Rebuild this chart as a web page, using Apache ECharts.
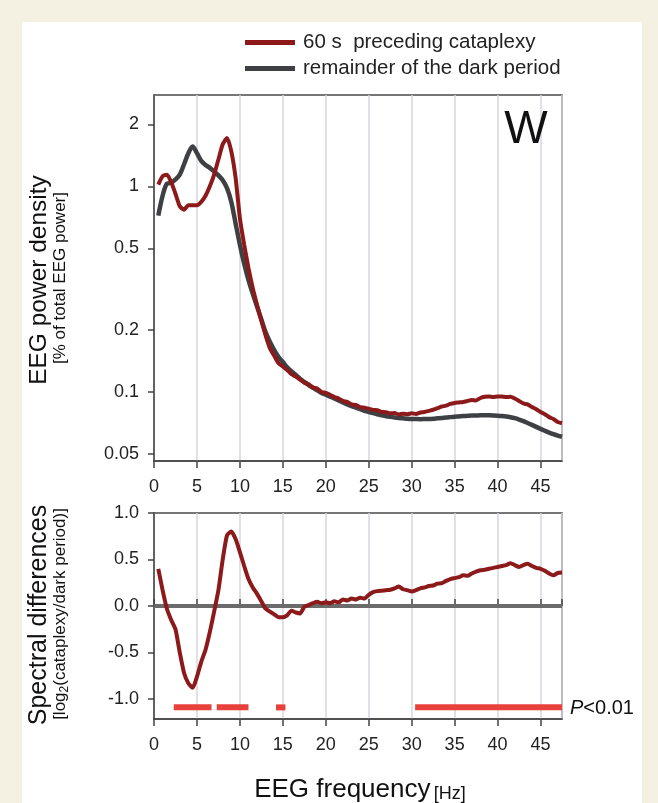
<!DOCTYPE html>
<html><head><meta charset="utf-8">
<script src="https://cdn.jsdelivr.net/npm/echarts@6/dist/echarts.min.js"></script>
<style>html,body{margin:0;padding:0;background:#f4f1e3;} #c{width:658px;height:803px;}</style>
</head><body><div id="c"></div>
<script>
// ---- data ----
const freq = [0.5,1,1.5,2,2.5,3,3.5,4,4.5,5,5.5,6,6.5,7,7.5,8,8.5,9,9.5,10,
  10.5,11,11.5,12,12.5,13,13.5,14,14.5,15,15.5,16,16.5,17,17.5,18,18.5,19,19.5,20,
  20.5,21,21.5,22,22.5,23,23.5,24,24.5,25,25.5,26,26.5,27,27.5,28,28.5,29,29.5,30,
  30.5,31,31.5,32,32.5,33,33.5,34,34.5,35,35.5,36,36.5,37,37.5,38,38.5,39,39.5,40,
  40.5,41,41.5,42,42.5,43,43.5,44,44.5,45,45.5,46,46.5,47,47.5];
const darkPeriod = [0.72,0.90,1.03,1.04,1.08,1.14,1.28,1.45,1.56,1.45,1.33,1.27,1.23,1.18,1.13,1.07,0.98,0.84,0.66,0.52,
  0.42,0.35,0.30,0.26,0.225,0.195,0.175,0.160,0.148,0.140,0.132,0.126,0.121,0.116,0.112,0.108,0.105,0.102,0.099,0.097,
  0.095,0.093,0.091,0.089,0.087,0.0855,0.084,0.0825,0.081,0.080,0.079,0.078,0.077,0.0763,0.0757,0.0752,0.0748,0.0745,0.0742,0.0740,
  0.0739,0.0738,0.0739,0.0740,0.0742,0.0745,0.0748,0.0752,0.0755,0.0758,0.0761,0.0764,0.0766,0.0768,0.0769,0.0770,0.0770,0.0770,0.0769,0.0767,
  0.0764,0.0760,0.0754,0.0746,0.0735,0.0722,0.0707,0.0692,0.0677,0.0662,0.0648,0.0635,0.0624,0.0614,0.0606];
const cataplexy = [1.02,1.12,1.14,1.05,0.92,0.80,0.77,0.81,0.81,0.81,0.84,0.90,1.00,1.14,1.35,1.60,1.72,1.48,1.10,0.70,
  0.52,0.40,0.32,0.265,0.222,0.188,0.163,0.150,0.138,0.133,0.128,0.122,0.119,0.115,0.111,0.109,0.105,0.104,0.100,0.099,
  0.097,0.0945,0.093,0.0905,0.0895,0.087,0.0865,0.0845,0.0840,0.0830,0.0818,0.0815,0.0800,0.0798,0.0788,0.0790,0.0778,0.0785,0.0780,0.0788,
  0.0782,0.0795,0.0800,0.0810,0.0820,0.0835,0.0850,0.0858,0.0875,0.0885,0.0890,0.0895,0.0905,0.0915,0.0910,0.0935,0.0948,0.0952,0.0947,0.0952,
  0.0950,0.0945,0.0948,0.0930,0.0905,0.0880,0.0870,0.0845,0.0825,0.0800,0.0780,0.0755,0.0740,0.0715,0.0705];
const spectralDiff = [0.40,0.17,-0.03,-0.15,-0.25,-0.50,-0.72,-0.83,-0.88,-0.76,-0.60,-0.47,-0.28,-0.06,0.17,0.50,0.76,0.80,0.72,0.58,
  0.43,0.29,0.20,0.13,0.05,-0.03,-0.06,-0.09,-0.12,-0.12,-0.10,-0.05,-0.07,-0.08,-0.01,0.01,0.03,0.045,0.03,0.04,
  0.03,0.05,0.04,0.07,0.06,0.08,0.07,0.09,0.08,0.12,0.15,0.16,0.165,0.17,0.175,0.19,0.21,0.18,0.17,0.155,
  0.17,0.19,0.20,0.215,0.22,0.24,0.245,0.27,0.29,0.30,0.31,0.33,0.325,0.35,0.37,0.385,0.39,0.40,0.41,0.42,
  0.43,0.44,0.46,0.44,0.42,0.44,0.455,0.43,0.41,0.40,0.38,0.35,0.33,0.355,0.36];
const sigStart = [2.3, 7.3, 14.2, 30.4];
const sigEnd = [6.7, 11.0, 15.3, 47.5];
const sigLevel = -1.09;
const powerTicks = [0.05, 0.1, 0.2, 0.5, 1, 2];
const diffTicks = [-1, -0.5, 0, 0.5, 1];
const seriesNames = ['60 s  preceding cataplexy', 'remainder of the dark period'];

// ---- chart ----
const FONT = 'Liberation Sans, Arial, sans-serif';
const RED = '#8c1a1a', GREY = '#3e4043', SIG = '#e8413c';
const chart = echarts.init(document.getElementById('c'), null, {renderer: 'canvas'});

function xAxisBase(gridIndex) {
  return {
    type: 'value', gridIndex, min: 0, max: 47.5, interval: 5,
    axisLine: {show: true, onZero: false, lineStyle: {color: '#444', width: 1.5}},
    axisTick: {show: true, inside: false, length: 7, lineStyle: {color: '#444', width: 1.5}},
    axisLabel: {fontSize: 18, color: '#222', fontFamily: FONT, margin: 17, showMaxLabel: false},
    splitLine: {show: true, lineStyle: {color: '#d6d6de', width: 1.5}}
  };
}
const pair = (ys) => freq.map((f, i) => [f, ys[i]]);

const sigSeries = sigStart.map((s, i) => ({
  type: 'line', xAxisIndex: 1, yAxisIndex: 1, name: 'sig' + i,
  data: [[s, sigLevel], [sigEnd[i], sigLevel]],
  symbol: 'none', lineStyle: {color: SIG, width: 6, cap: 'butt'}, z: 3, silent: true,
  markLine: i === 0 ? {
    silent: true, symbol: 'none', label: {show: false},
    lineStyle: {color: '#6b6b6b', width: 4, type: 'solid'},
    data: [{yAxis: 0}], z: 2
  } : undefined
}));

chart.setOption({
  animation: false,
  backgroundColor: '#f4f1e3',
  textStyle: {fontFamily: FONT},
  graphic: [
    {type: 'rect', shape: {x: 22, y: 22, width: 620, height: 781}, style: {fill: '#fff'}, z: -100, silent: true},
    {type: 'text', x: 526, y: 130, z: 10, style: {text: 'W', fontSize: 46, fill: '#111', fontFamily: FONT, align: 'center', verticalAlign: 'middle'}},
    {type: 'text', x: 39, y: 280, rotation: Math.PI / 2, z: 10,
      style: {text: 'EEG power density', fontSize: 24.5, fill: '#111', fontFamily: FONT, align: 'center', verticalAlign: 'middle'}},
    {type: 'text', x: 60, y: 278, rotation: Math.PI / 2, z: 10,
      style: {text: '[% of total EEG power]', fontSize: 17, fill: '#111', fontFamily: FONT, align: 'center', verticalAlign: 'middle'}},
    {type: 'text', x: 39, y: 615, rotation: Math.PI / 2, z: 10,
      style: {text: 'Spectral differences', fontSize: 25, fill: '#111', fontFamily: FONT, align: 'center', verticalAlign: 'middle'}},
    {type: 'text', x: 60, y: 614, rotation: Math.PI / 2, z: 10,
      style: {text: '{b|[log}{s|2}{b|(cataplexy/dark period)]}', fill: '#111', fontFamily: FONT, align: 'center', verticalAlign: 'middle',
        rich: {b: {fontSize: 17, lineHeight: 22, fontFamily: FONT, fill: '#111', verticalAlign: 'middle'},
               s: {fontSize: 12, lineHeight: 12, fontFamily: FONT, fill: '#111', verticalAlign: 'bottom'}}}},
    {type: 'text', x: 360, y: 788, z: 10,
      style: {text: '{a|EEG frequency} {b|[Hz]}', fontFamily: FONT, align: 'center', verticalAlign: 'middle',
        rich: {a: {fontSize: 26, fill: '#111', fontFamily: FONT, verticalAlign: 'bottom', lineHeight: 30},
               b: {fontSize: 18, fill: '#111', fontFamily: FONT, verticalAlign: 'bottom', lineHeight: 26}}}},
    {type: 'text', x: 570, y: 708, z: 10,
      style: {text: '{i|P}{n|<0.01}', fontFamily: FONT, align: 'left', verticalAlign: 'middle',
        rich: {i: {fontSize: 20, fontStyle: 'italic', fill: '#111', fontFamily: FONT},
               n: {fontSize: 20, fill: '#111', fontFamily: FONT}}}}
  ],
  legend: {
    data: seriesNames, orient: 'vertical', left: 240, top: 27, itemWidth: 50, itemHeight: 5, itemGap: 5,
    icon: 'rect', textStyle: {fontSize: 20.5, color: '#222', fontFamily: FONT, padding: [0, 0, 0, 3]},
    selectedMode: false
  },
  grid: [
    {left: 154, right: 96, top: 95, height: 366, show: true, borderColor: '#4a4a4a', borderWidth: 1.5, backgroundColor: '#fff'},
    {left: 154, right: 96, top: 513, height: 206, show: true, borderColor: '#4a4a4a', borderWidth: 1.5, backgroundColor: '#fff'}
  ],
  xAxis: [
    xAxisBase(0),
    xAxisBase(1),
    Object.assign(xAxisBase(1), {position: 'top', axisLabel: {show: false}, splitLine: {show: false}, axisLine: {show: false}})
  ],
  yAxis: [
    {type: 'log', logBase: 10, gridIndex: 0, min: 0.0462, max: 2.78,
      axisLine: {show: true, lineStyle: {color: '#444', width: 1.5}},
      axisTick: {show: true, length: 6, customValues: powerTicks, lineStyle: {color: '#444', width: 1.5}},
      axisLabel: {fontSize: 18, color: '#222', fontFamily: FONT, margin: 15, customValues: powerTicks,
        formatter: v => String(+(+v).toPrecision(3))},
      splitLine: {show: false}, minorTick: {show: false}},
    {type: 'value', gridIndex: 1, min: -1.215, max: 1.0,
      axisLine: {show: true, onZero: false, lineStyle: {color: '#444', width: 1.5}},
      axisTick: {show: true, length: 6, customValues: diffTicks, lineStyle: {color: '#444', width: 1.5}},
      axisLabel: {fontSize: 18, color: '#222', fontFamily: FONT, margin: 15, customValues: diffTicks,
        formatter: v => (+v).toFixed(1)},
      splitLine: {show: false}}
  ],
  series: [
    {name: seriesNames[1], type: 'line', xAxisIndex: 0, yAxisIndex: 0, data: pair(darkPeriod),
      symbol: 'none', smooth: 0.3, color: GREY, lineStyle: {color: GREY, width: 4.5}, z: 3},
    {name: seriesNames[0], type: 'line', xAxisIndex: 0, yAxisIndex: 0, data: pair(cataplexy),
      symbol: 'none', smooth: 0.2, color: RED, lineStyle: {color: RED, width: 4}, z: 4},
    ...sigSeries,
    {name: 'diff', type: 'line', xAxisIndex: 1, yAxisIndex: 1, data: pair(spectralDiff),
      symbol: 'none', smooth: 0.2, color: RED, lineStyle: {color: RED, width: 4}, z: 5}
  ]
});
</script>
</body></html>
